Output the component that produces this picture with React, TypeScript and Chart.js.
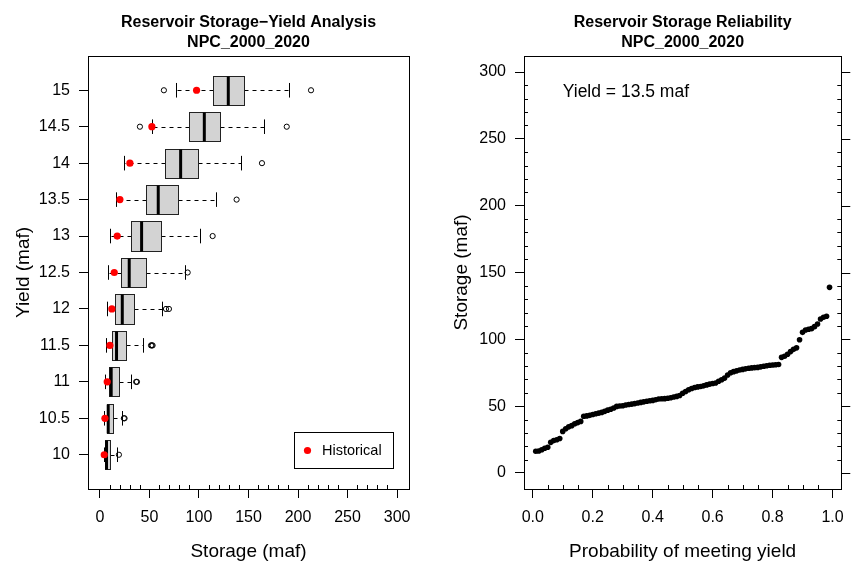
import React, { useEffect, useRef } from 'react';
import { Chart, registerables } from 'chart.js';

Chart.register(...registerables);

const FONT = '"Liberation Sans", Arial, Helvetica, sans-serif';

// ---------- Left panel: storage-yield boxplots ----------
const yieldLabels = ['10', '10.5', '11', '11.5', '12', '12.5', '13', '13.5', '14', '14.5', '15'];
const whiskerLow = [3.7, 4.4, 5.1, 6.1, 7.4, 8.4, 9.8, 15.8, 23.9, 52.5, 76.8];
const q1 = [5.1, 6.7, 9.4, 12.5, 14.8, 20.9, 31.0, 46.5, 66.0, 89.9, 114.5];
const median = [6.7, 8.4, 11.4, 16.8, 22.6, 29.6, 42.1, 58.9, 81.5, 105.4, 129.6];
const q3 = [10.1, 13.5, 19.5, 26.6, 34.7, 46.5, 61.3, 78.8, 99.3, 121.2, 145.5];
const whiskerHigh = [16.8, 22.6, 31.0, 43.8, 62.3, 85.9, 101.0, 117.5, 142.1, 166.0, 190.9];
const outliers = [
  [19.2],
  [24.2, 24.9],
  [36.6, 37.4],
  [51.6, 52.4, 53.2],
  [66.7, 69.7],
  [88.6],
  [113.8],
  [138.0],
  [163.6],
  [40.4, 188.6],
  [64.6, 213.1],
];
const historical = [4.4, 5.1, 7.4, 10.1, 12.1, 14.5, 17.5, 20.2, 30.3, 52.5, 97.6];
const storageTicks = [0, 50, 100, 150, 200, 250, 300];

// ---------- Right panel: reliability ----------
const probability = [
  0.01, 0.02, 0.03, 0.04, 0.05, 0.06, 0.07, 0.08, 0.09, 0.10,
  0.11, 0.12, 0.13, 0.14, 0.15, 0.16, 0.17, 0.18, 0.19, 0.20,
  0.21, 0.22, 0.23, 0.24, 0.25, 0.26, 0.27, 0.28, 0.29, 0.30,
  0.31, 0.32, 0.33, 0.34, 0.35, 0.36, 0.37, 0.38, 0.39, 0.40,
  0.41, 0.42, 0.43, 0.44, 0.45, 0.46, 0.47, 0.48, 0.49, 0.50,
  0.51, 0.52, 0.53, 0.54, 0.55, 0.56, 0.57, 0.58, 0.59, 0.60,
  0.61, 0.62, 0.63, 0.64, 0.65, 0.66, 0.67, 0.68, 0.69, 0.70,
  0.71, 0.72, 0.73, 0.74, 0.75, 0.76, 0.77, 0.78, 0.79, 0.80,
  0.81, 0.82, 0.83, 0.84, 0.85, 0.86, 0.87, 0.88, 0.89, 0.90,
  0.91, 0.92, 0.93, 0.94, 0.95, 0.96, 0.97, 0.98, 0.99,
];
const storage = [
  16.2, 16.4, 17.4, 18.5, 19.2, 22.9, 24.2, 24.9, 25.8, 31.1,
  33.1, 34.5, 35.4, 36.8, 37.7, 38.6, 42.4, 42.7, 43.1, 43.7,
  44.3, 44.8, 45.3, 46.1, 47.0, 47.7, 48.6, 49.8, 50.1, 50.3,
  50.8, 51.2, 51.5, 51.9, 52.4, 52.8, 53.2, 53.7, 54.0, 54.3,
  54.8, 55.3, 55.5, 55.6, 55.9, 56.3, 56.8, 57.3, 58.0, 59.6,
  61.0, 62.3, 63.2, 64.0, 64.4, 64.7, 65.2, 65.9, 66.5, 66.9,
  67.3, 68.6, 69.8, 71.0, 73.3, 75.0, 75.8, 76.4, 77.0, 77.5,
  77.9, 78.3, 78.6, 78.8, 79.0, 79.4, 79.9, 80.2, 80.6, 80.8,
  81.0, 81.2, 86.5, 87.3, 88.8, 90.8, 92.5, 93.6, 99.7, 105.2,
  107.0, 107.5, 108.0, 109.5, 111.5, 115.2, 116.5, 117.3, 138.9,
];
const probTicks = [0, 0.2, 0.4, 0.6, 0.8, 1.0];
const storageTicksR = [0, 50, 100, 150, 200, 250, 300];
const noteText = 'Yield = 13.5 maf';
const noteProb = 0.1;
const noteStorage = 285;

const titleLines = (first: string) => [first, 'NPC_2000_2020'];

const fixedTicks = (values: number[]) => (scale: any) => {
  scale.ticks = values.map((v) => ({ value: v }));
};

const crisp = (v: number) => Math.round(v) + 0.5;

const framePlugin = (opts: { minorX: number[]; minorY: number[]; mirrorY: boolean; majorY: number[] }) => ({
  id: 'rframe',
  afterDraw(chart: any) {
    const { ctx, chartArea: a, scales } = chart;
    const x = scales.x;
    const y = scales.y;
    ctx.save();
    ctx.strokeStyle = '#000';
    ctx.lineWidth = 1;
    ctx.strokeRect(crisp(a.left), crisp(a.top), Math.round(a.right - a.left), Math.round(a.bottom - a.top));
    ctx.beginPath();
    for (const v of opts.minorX) {
      const px = crisp(x.getPixelForValue(v));
      ctx.moveTo(px, a.bottom);
      ctx.lineTo(px, a.bottom - 4);
    }
    for (const v of opts.minorY) {
      const py = crisp(y.getPixelForValue(v));
      ctx.moveTo(a.left, py);
      ctx.lineTo(a.left + 4, py);
      if (opts.mirrorY) {
        ctx.moveTo(a.right, py);
        ctx.lineTo(a.right - 4, py);
      }
    }
    if (opts.mirrorY) {
      for (const v of opts.majorY) {
        const py = crisp(y.getPixelForValue(v));
        ctx.moveTo(a.right, py);
        ctx.lineTo(a.right + 9, py);
      }
    }
    ctx.stroke();
    ctx.restore();
  },
});

const boxPlugin = {
  id: 'boxes',
  beforeDatasetsDraw(chart: any) {
    const { ctx, scales } = chart;
    const x = scales.x;
    const y = scales.y;
    ctx.save();
    ctx.strokeStyle = '#000';
    for (let i = 0; i < yieldLabels.length; i++) {
      const yc = crisp(y.getPixelForValue(i));
      const yt = Math.round(y.getPixelForValue(i + 0.4)) + 0.5;
      const yb = Math.round(y.getPixelForValue(i - 0.4)) + 0.5;
      const st = y.getPixelForValue(i + 0.2);
      const sb = y.getPixelForValue(i - 0.2);
      const xl = crisp(x.getPixelForValue(whiskerLow[i]));
      const xa = crisp(x.getPixelForValue(q1[i]));
      const xm = x.getPixelForValue(median[i]);
      const xb = crisp(x.getPixelForValue(q3[i]));
      const xh = crisp(x.getPixelForValue(whiskerHigh[i]));
      ctx.lineWidth = 1;
      ctx.setLineDash([4, 4]);
      ctx.beginPath();
      ctx.moveTo(xa, yc);
      ctx.lineTo(xl, yc);
      ctx.moveTo(xb, yc);
      ctx.lineTo(xh, yc);
      ctx.stroke();
      ctx.setLineDash([]);
      ctx.beginPath();
      ctx.moveTo(xl, st);
      ctx.lineTo(xl, sb);
      ctx.moveTo(xh, st);
      ctx.lineTo(xh, sb);
      ctx.stroke();
      ctx.fillStyle = '#d3d3d3';
      ctx.fillRect(xa, yt, xb - xa, yb - yt);
      ctx.strokeStyle = '#222';
      ctx.strokeRect(xa, yt, xb - xa, yb - yt);
      ctx.strokeStyle = '#000';
      ctx.lineWidth = 3;
      ctx.beginPath();
      ctx.moveTo(xm, yt);
      ctx.lineTo(xm, yb);
      ctx.stroke();
    }
    ctx.restore();
  },
};

const legendPlugin = {
  id: 'histLegend',
  afterDraw(chart: any) {
    const { ctx, chartArea: a } = chart;
    const w = 99;
    const h = 36;
    const left = Math.round(a.right - 16 - w) + 0.5;
    const top = Math.round(a.bottom - 21 - h) + 0.5;
    ctx.save();
    ctx.fillStyle = '#fff';
    ctx.fillRect(left, top, w, h);
    ctx.strokeStyle = '#000';
    ctx.lineWidth = 1;
    ctx.strokeRect(left, top, w, h);
    ctx.fillStyle = '#ff0000';
    ctx.beginPath();
    ctx.arc(left + 13, top + h / 2, 3.6, 0, Math.PI * 2);
    ctx.fill();
    ctx.fillStyle = '#000';
    ctx.font = `14.5px ${FONT}`;
    ctx.textBaseline = 'middle';
    ctx.textAlign = 'left';
    ctx.fillText('Historical', left + 27.5, top + h / 2 + 0.5);
    ctx.restore();
  },
};

const notePlugin = {
  id: 'note',
  afterDraw(chart: any) {
    const { ctx, scales } = chart;
    ctx.save();
    ctx.fillStyle = '#000';
    ctx.font = `17.5px ${FONT}`;
    ctx.textBaseline = 'middle';
    ctx.textAlign = 'left';
    ctx.fillText(noteText, scales.x.getPixelForValue(noteProb), scales.y.getPixelForValue(noteStorage));
    ctx.restore();
  },
};

const titleOpts = (text: string) => ({
  display: true,
  text: titleLines(text),
  color: '#000',
  font: { family: FONT, size: 16, weight: 'bold' as const, lineHeight: 1.25 },
  padding: { top: 13, bottom: 3 },
  fullSize: false,
});

function range(start: number, end: number, step: number, skip: number) {
  const out: number[] = [];
  for (let k = 0; start + k * step <= end + 1e-9; k++) {
    const v = +(start + k * step).toFixed(4);
    if (Math.abs(v / skip - Math.round(v / skip)) > 1e-6) out.push(v);
  }
  return out;
}

const gridOpts = { drawOnChartArea: false, drawTicks: true, tickLength: 9, color: '#000', lineWidth: 1 };

export default function App() {
  const leftRef = useRef<HTMLCanvasElement>(null);
  const rightRef = useRef<HTMLCanvasElement>(null);

  useEffect(() => {
    const leftChart = new Chart(leftRef.current!, {
      type: 'scatter',
      data: {
        datasets: [
          {
            label: 'Outliers',
            data: outliers.flatMap((arr, i) => arr.map((v) => ({ x: v, y: i }))),
            pointStyle: 'circle',
            pointRadius: 2.6,
            borderColor: '#000',
            borderWidth: 1,
            backgroundColor: 'rgba(0,0,0,0)',
          },
          {
            label: 'Historical',
            data: historical.map((v, i) => ({ x: v, y: i })),
            pointStyle: 'circle',
            pointRadius: 3.6,
            borderWidth: 0,
            backgroundColor: '#ff0000',
          },
        ],
      },
      options: {
        responsive: false,
        animation: false,
        events: [],
        layout: { padding: { left: 0, right: 18, top: 0, bottom: 0 } },
        plugins: {
          legend: { display: false },
          tooltip: { enabled: false },
          title: titleOpts('Reservoir Storage\u2212Yield Analysis'),
        },
        scales: {
          x: {
            type: 'linear',
            min: -12,
            max: 312,
            afterBuildTicks: fixedTicks(storageTicks),
            afterFit: (s: any) => { s.height = 75; },
            grid: gridOpts,
            border: { display: false },
            ticks: { color: '#000', font: { family: FONT, size: 16 }, padding: 10, maxRotation: 0, autoSkip: false, callback: (v: any) => String(v) },
            title: { display: true, text: 'Storage (maf)', color: '#000', font: { family: FONT, size: 19 }, padding: { top: 0, bottom: 1 } },
          },
          y: {
            type: 'linear',
            min: -0.94,
            max: 10.94,
            afterBuildTicks: fixedTicks(yieldLabels.map((_, i) => i)),
            afterFit: (s: any) => { s.width = 88; },
            grid: gridOpts,
            border: { display: false },
            ticks: { color: '#000', font: { family: FONT, size: 16 }, padding: 9, autoSkip: false, callback: (v: any) => yieldLabels[Math.round(v)] },
            title: { display: true, text: 'Yield (maf)', color: '#000', font: { family: FONT, size: 19 }, padding: { top: 12, bottom: 0 } },
          },
        },
      },
      plugins: [boxPlugin, framePlugin({ minorX: range(0, 300, 10, 50), minorY: [], mirrorY: false, majorY: [] }), legendPlugin],
    } as any);

    const rightChart = new Chart(rightRef.current!, {
      type: 'scatter',
      data: {
        datasets: [
          {
            label: 'Storage',
            data: probability.map((p, i) => ({ x: p, y: storage[i] })),
            pointStyle: 'circle',
            pointRadius: 2.8,
            borderWidth: 0,
            backgroundColor: '#000',
          },
        ],
      },
      options: {
        responsive: false,
        animation: false,
        events: [],
        layout: { padding: { left: 0, right: 10, top: 0, bottom: 0 } },
        plugins: {
          legend: { display: false },
          tooltip: { enabled: false },
          title: titleOpts('Reservoir Storage Reliability'),
        },
        scales: {
          x: {
            type: 'linear',
            min: -0.0292,
            max: 1.0292,
            afterBuildTicks: fixedTicks(probTicks),
            afterFit: (s: any) => { s.height = 75; },
            grid: gridOpts,
            border: { display: false },
            ticks: { color: '#000', font: { family: FONT, size: 16 }, padding: 10, maxRotation: 0, autoSkip: false, callback: (v: any) => Number(v).toFixed(1) },
            title: { display: true, text: 'Probability of meeting yield', color: '#000', font: { family: FONT, size: 19 }, padding: { top: 0, bottom: 1 } },
          },
          y: {
            type: 'linear',
            min: -12,
            max: 312,
            afterBuildTicks: fixedTicks(storageTicksR),
            afterFit: (s: any) => { s.width = 97; },
            grid: gridOpts,
            border: { display: false },
            ticks: { color: '#000', font: { family: FONT, size: 16 }, padding: 9, autoSkip: false, callback: (v: any) => String(v) },
            title: { display: true, text: 'Storage (maf)', color: '#000', font: { family: FONT, size: 19 }, padding: { top: 23, bottom: 0 } },
          },
        },
      },
      plugins: [framePlugin({ minorX: range(0, 1, 0.05, 0.2), minorY: range(0, 300, 10, 50), mirrorY: true, majorY: storageTicksR }), notePlugin],
    } as any);

    return () => {
      leftChart.destroy();
      rightChart.destroy();
    };
  }, []);

  return (
    <div style={{ position: 'fixed', left: 0, top: 0, width: 854, height: 564, background: '#fff' }}>
      <canvas ref={leftRef} width={427} height={564} style={{ position: 'absolute', left: 0, top: 0, width: 427, height: 564 }} />
      <canvas ref={rightRef} width={427} height={564} style={{ position: 'absolute', left: 427, top: 0, width: 427, height: 564 }} />
    </div>
  );
}
